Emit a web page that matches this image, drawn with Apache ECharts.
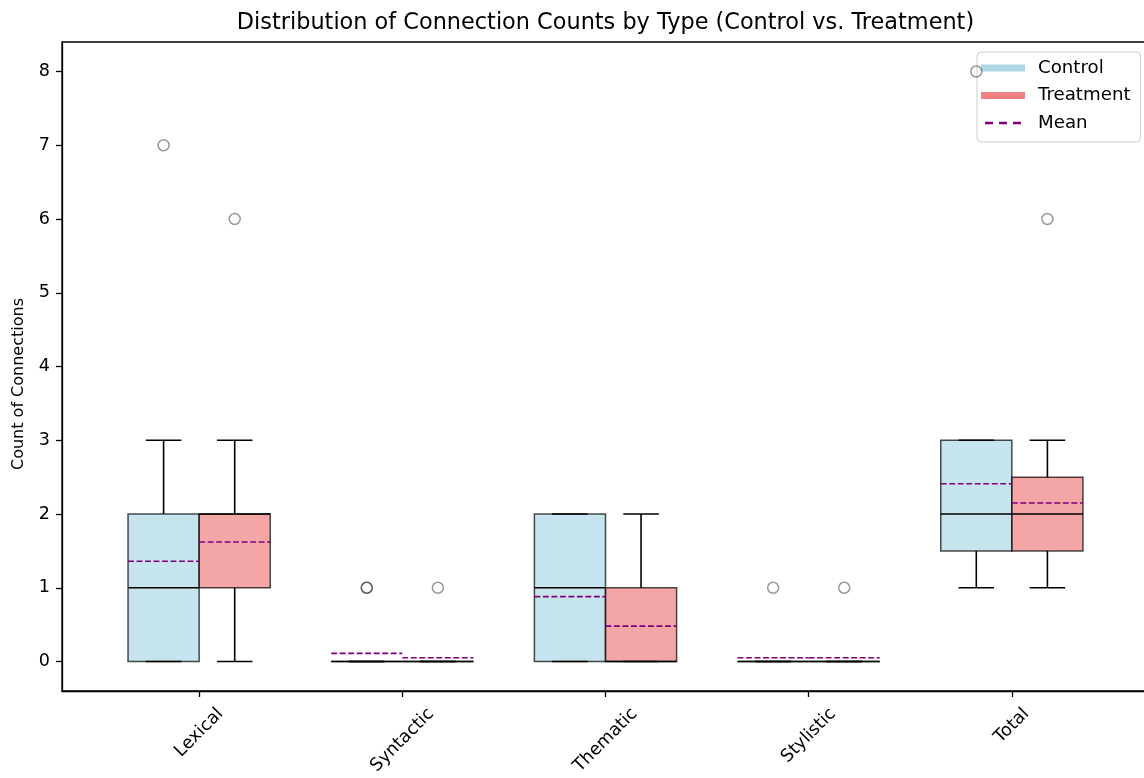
<!DOCTYPE html>
<html><head><meta charset="utf-8">
<script src="https://cdn.jsdelivr.net/npm/echarts@6/dist/echarts.min.js"></script>
<style>html,body{margin:0;padding:0;background:#fff}#c{width:1144px;height:778px}</style>
</head><body><div id="c"></div>
<script>
// ---- data ----
const categories = ['Lexical', 'Syntactic', 'Thematic', 'Stylistic', 'Total'];
// [lower whisker, Q1, median, Q3, upper whisker]
const controlStats   = [[0, 0, 1, 2, 3], [0, 0, 0, 0, 0], [0, 0, 1, 2, 2], [0, 0, 0, 0, 0], [1, 1.5, 2, 3, 3]];
const treatmentStats = [[0, 1, 2, 2, 3], [0, 0, 0, 0, 0], [0, 0, 0, 1, 2], [0, 0, 0, 0, 0], [1, 1.5, 2, 2.5, 3]];
const controlMeans   = [1.36, 0.11, 0.88, 0.05, 2.41];
const treatmentMeans = [1.62, 0.05, 0.48, 0.05, 2.15];
const controlOutliers   = [[7], [1, 1], [], [1], [8]];
const treatmentOutliers = [[6], [1], [], [1], [6]];
const yTicks = [0, 1, 2, 3, 4, 5, 6, 7, 8];
const xTicks = [0, 1, 2, 3, 4];

// ---- layout constants ----
const OFF = 0.175, BW = 0.35;
const FONT = 'DejaVu Sans';
const TICK_FS = 17.6;

function boxData(stats, sign) {
  return stats.map((s, i) => [i + sign * OFF].concat(s));
}
function meanData(means, sign) {
  return means.map((m, i) => [i + sign * OFF, m]);
}
function outlierData(outs, sign) {
  const r = [];
  outs.forEach((arr, i) => arr.forEach(v => r.push([i + sign * OFF, v])));
  return r;
}

function boxRender(fill) {
  return function (params, api) {
    const x = api.value(0), lo = api.value(1), q1 = api.value(2), med = api.value(3), q3 = api.value(4), hi = api.value(5);
    const tl = api.coord([x - BW / 2, q3]), br = api.coord([x + BW / 2, q1]);
    const c = v => api.coord([x, v]);
    const xl = api.coord([x - BW / 2, med])[0], xr = api.coord([x + BW / 2, med])[0];
    const cl = api.coord([x - BW / 4, 0])[0], cr = api.coord([x + BW / 4, 0])[0];
    const blk = { stroke: '#000', lineWidth: 1.6 };
    return {
      type: 'group', children: [
        { type: 'rect', shape: { x: tl[0], y: tl[1], width: br[0] - tl[0], height: br[1] - tl[1] },
          style: { fill: fill, stroke: 'rgba(0,0,0,0.7)', lineWidth: 1.5 } },
        { type: 'line', shape: { x1: c(q1)[0], y1: c(q1)[1], x2: c(lo)[0], y2: c(lo)[1] }, style: blk },
        { type: 'line', shape: { x1: c(q3)[0], y1: c(q3)[1], x2: c(hi)[0], y2: c(hi)[1] }, style: blk },
        { type: 'line', shape: { x1: cl, y1: c(lo)[1], x2: cr, y2: c(lo)[1] }, style: blk },
        { type: 'line', shape: { x1: cl, y1: c(hi)[1], x2: cr, y2: c(hi)[1] }, style: blk },
        { type: 'line', shape: { x1: xl, y1: c(med)[1], x2: xr, y2: c(med)[1] }, style: blk }
      ]
    };
  };
}
function meanRender(params, api) {
  const x = api.value(0), m = api.value(1);
  const a = api.coord([x - BW / 2, m]), b = api.coord([x + BW / 2, m]);
  return { type: 'line', shape: { x1: a[0], y1: a[1], x2: b[0], y2: b[1] },
    style: { stroke: '#800080', lineWidth: 1.6, lineDash: [5.9, 2.6] } };
}

// x tick labels: rotated 45°, centred under the tick (matplotlib style)
const mctx = document.createElement('canvas').getContext('2d');
mctx.font = TICK_FS + 'px "' + FONT + '"';
const rich = {};
categories.forEach((name, i) => {
  const L = mctx.measureText(name).width;
  const depth = 20.3 + L / 2.83;     // desired centre depth below axis
  const p = Math.max(0, 1.414 * (depth - 20));
  rich['r' + i] = { fontSize: TICK_FS, fontFamily: FONT, color: '#000', padding: [p, p, 0, 0] };
});

const dashIcon = 'path://M0,0h0.01v0.01h-0.01z M43.99,6.99h0.01v0.01h-0.01z M4,2.3h8v2.4h-8z M18,2.3h8v2.4h-8z M32,2.3h8v2.4h-8z';

const chart = echarts.init(document.getElementById('c'), null, { renderer: 'canvas' });
chart.setOption({
  animation: false,
  backgroundColor: '#fff',
  title: {
    text: 'Distribution of Connection Counts by Type (Control vs. Treatment)',
    left: 600.5, top: 7, textAlign: 'center',
    textStyle: { fontSize: 22.4, fontWeight: 'normal', fontFamily: FONT, color: '#000' }
  },
  legend: {
    data: [
      { name: 'Control', icon: 'rect', itemStyle: { color: '#ADD8E6' } },
      { name: 'Treatment', icon: 'rect', itemStyle: { color: '#F08080' } },
      { name: 'Mean', icon: dashIcon, itemStyle: { color: '#800080' } }
    ],
    orient: 'vertical', left: 977, top: 52,
    itemWidth: 44, itemHeight: 7, itemGap: 9.5,
    backgroundColor: 'rgba(255,255,255,0.8)', borderColor: '#cccccc', borderWidth: 1, borderRadius: 4,
    padding: [7, 10, 10, 4],
    selectedMode: false,
    itemStyle: { borderWidth: 0 },
    textStyle: { fontSize: 18.2, fontFamily: FONT, color: '#000', padding: [0, 0, 0, 8], lineHeight: 18 }
  },
  grid: { left: 62, top: 42, width: 1087, height: 649, show: true, borderColor: '#000', borderWidth: 1.3,
    backgroundColor: 'transparent', containLabel: false, outerBoundsMode: 'none' },
  xAxis: {
    type: 'value', min: -0.675, max: 4.675,
    axisLine: { show: true, onZero: false, lineStyle: { color: '#000', width: 1.3 } },
    axisTick: { show: true, customValues: xTicks, length: 6, lineStyle: { color: '#000', width: 1.3 } },
    axisLabel: {
      customValues: xTicks, rotate: 45, align: 'center', verticalAlign: 'middle', margin: 20,
      formatter: v => '{r' + Math.round(v) + '|' + categories[Math.round(v)] + '}',
      rich: rich
    },
    splitLine: { show: false }
  },
  yAxis: {
    type: 'value', min: -0.4, max: 8.4,
    name: 'Count of Connections', nameLocation: 'middle', nameGap: 35,
    nameTextStyle: { fontSize: 16, fontFamily: FONT, color: '#000', padding: [0, 35, 0, 0] },
    axisLine: { show: true, onZero: false, lineStyle: { color: '#000', width: 1.3 } },
    axisTick: { show: true, customValues: yTicks, length: 6, lineStyle: { color: '#000', width: 1.3 } },
    axisLabel: { customValues: yTicks, margin: 12, fontSize: TICK_FS, fontFamily: FONT, color: '#000' },
    splitLine: { show: false }
  },
  series: [
    { name: 'Control', type: 'custom', renderItem: boxRender('rgba(173,216,230,0.7)'),
      itemStyle: { color: '#ADD8E6' }, encode: { x: 0, y: [1, 2, 3, 4, 5] },
      data: boxData(controlStats, -1), silent: true, z: 2 },
    { name: 'Treatment', type: 'custom', renderItem: boxRender('rgba(240,128,128,0.7)'),
      itemStyle: { color: '#F08080' }, encode: { x: 0, y: [1, 2, 3, 4, 5] },
      data: boxData(treatmentStats, 1), silent: true, z: 2 },
    { name: 'Mean', type: 'custom', renderItem: meanRender, itemStyle: { color: '#800080' },
      encode: { x: 0, y: 1 },
      data: meanData(controlMeans, -1).concat(meanData(treatmentMeans, 1)), silent: true, z: 3 },
    { name: 'Outliers', type: 'scatter', symbol: 'circle', symbolSize: 11,
      itemStyle: { color: 'rgba(0,0,0,0)', borderColor: 'rgba(0,0,0,0.5)', borderWidth: 1.5 },
      data: outlierData(controlOutliers, -1).concat(outlierData(treatmentOutliers, 1)),
      silent: true, z: 4 }
  ]
});
</script>
</body></html>
